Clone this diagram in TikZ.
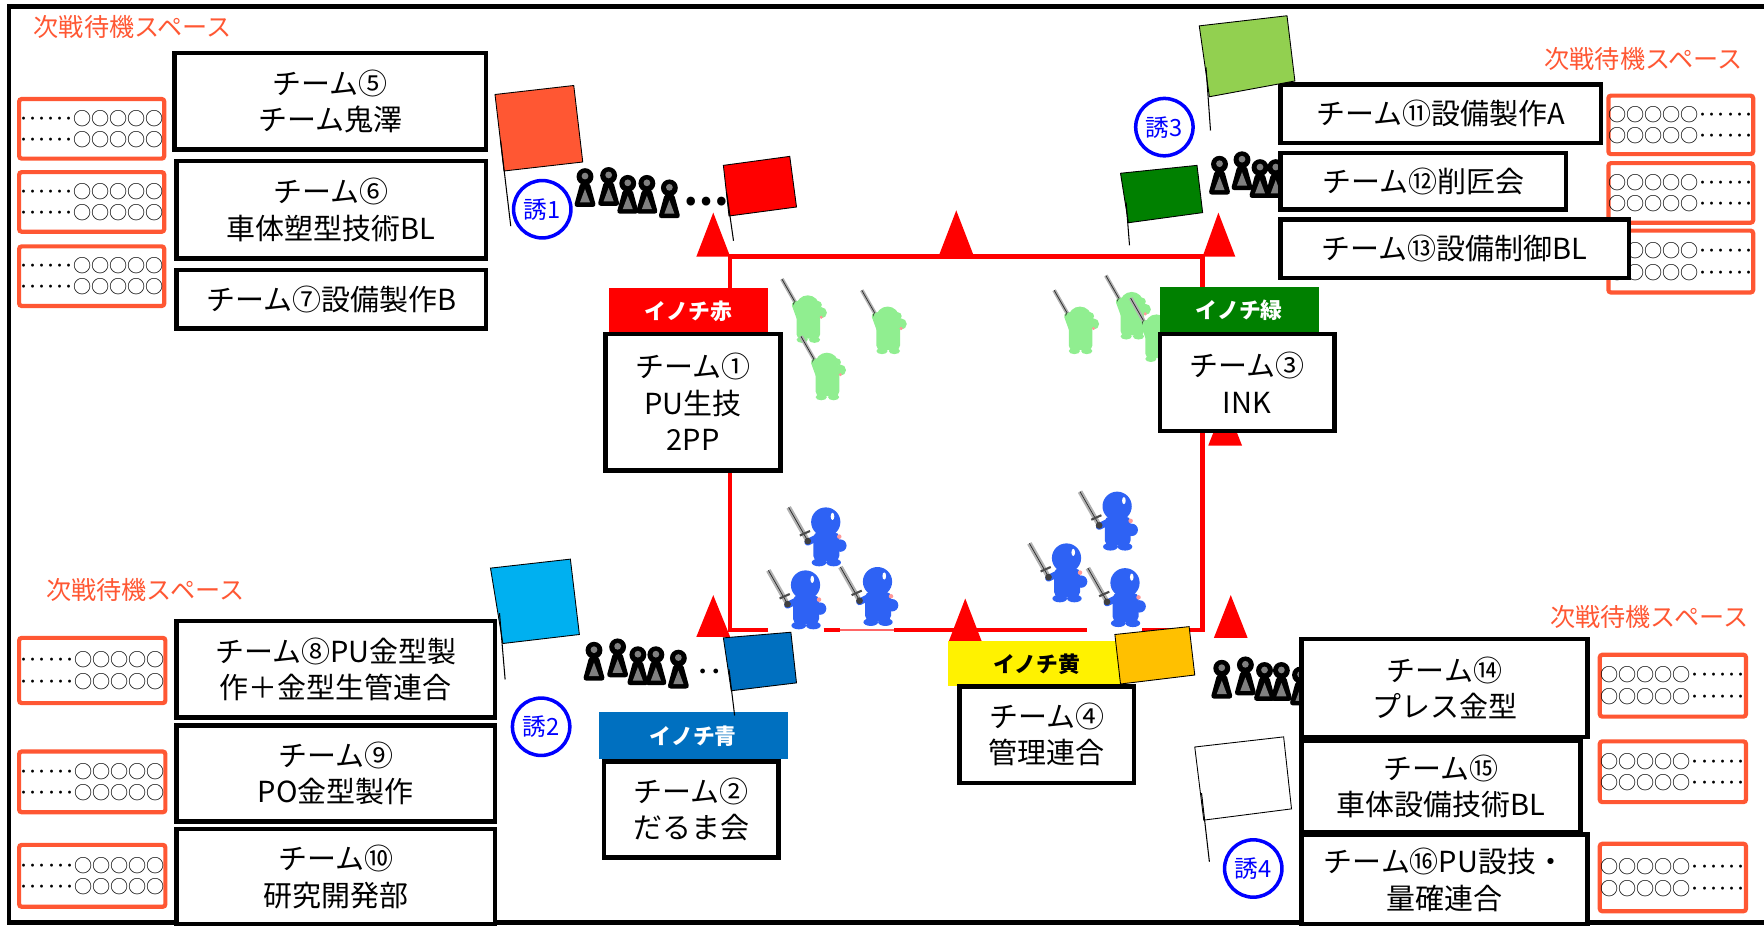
\documentclass[tikz,border=0pt]{standalone}
\usepackage{fontspec}
\setmainfont{Noto Sans CJK JP}
\usetikzlibrary{positioning}
\usepackage{xcolor}

\definecolor{waitorange}{RGB}{255,87,51}
\definecolor{inogreen}{RGB}{0,128,0}
\definecolor{inoblue}{RGB}{0,112,192}
\definecolor{flaglime}{RGB}{146,208,80}
\definecolor{flagsky}{RGB}{0,176,240}
\definecolor{flagamber}{RGB}{255,192,0}
\definecolor{ninjablue}{RGB}{46,98,244}
\definecolor{ninjagreen}{RGB}{144,238,144}

\begin{document}
\begin{tikzpicture}[x=0.0225cm, y=-0.0225cm,
  team/.style={draw, line width=2.6pt, fill=white, align=center, inner sep=0pt,
    font=\fontsize{16.5}{20.8}\selectfont},
  wh/.style 2 args={minimum width=#1*0.0225cm, minimum height=#2*0.0225cm},
  wait/.style={draw=waitorange, line width=2.4pt, fill=white, rounded corners=1.5pt,
    align=center, inner sep=0pt, font=\fontsize{10.3}{12.1}\selectfont},
  bar/.style={fill=#1, inner sep=0pt, text=white, font=\bfseries\fontsize{12.4}{14}\selectfont},
  spare/.style={text=waitorange, inner sep=0pt, font=\fontsize{14.3}{16}\selectfont},
  lure/.style={circle, draw=blue, line width=2pt, text=blue, fill=white, inner sep=0pt,
    minimum size=51*0.0225cm, font=\fontsize{13.5}{13.5}\selectfont},
  field/.style={draw=red, line width=2.6pt},
  flag/.style={draw=black, line width=0.5pt},
  pole/.style={draw=black, line width=0.6pt},
  pawn/.pic={
    \fill[black, rounded corners=2pt] (-4,5) -- (4,5) -- (10,27) -- (-10,27) -- cycle;
    \fill[gray] (0,11) -- (4.5,23) -- (-4.5,23) -- cycle;
    \fill[black] (0,0) circle (7.5);
    \fill[gray] (0,-0.5) circle (3);
  },
  bninja/.pic={
    % sword
    \draw[line width=2.8pt, gray!60] (-17,15) -- (-33,-13);
    \draw[line width=0.4pt, gray!30!black] (-17,15) -- (-33,-13);
    \draw[line width=1.2pt, black!70] (-23,12) -- (-14,8);
    % body
    \fill[ninjablue, rounded corners=3pt] (-11,9) rectangle (12,35);
    \fill[ninjablue] (-6,36) ellipse (6.5 and 3.4) (7,36) ellipse (6.5 and 3.4);
    \draw[ninjablue, line width=3.8pt, line cap=round] (-8,14) -- (-16,18);
    \fill[gray!50!black] (-16,17) circle (3);
    \fill[ninjablue] (13,21) circle (5.5);
    \fill[pink!80!red] (12,13) circle (2);
    % head
    \fill[ninjablue] (0,0) circle (13);
    \fill[white] (6,-5) ellipse (1.6 and 3.2);
  },
  gninja/.pic={
    % sword held up
    \draw[line width=2.2pt, gray!60] (-11,-4) -- (-23,-25);
    \draw[line width=0.4pt, gray!30!black] (-11,-4) -- (-23,-25);
    \fill[ninjagreen, rounded corners=2.5pt] (-10,6) rectangle (11,28);
    \fill[ninjagreen] (-5,29) ellipse (5 and 2.8) (6,29) ellipse (5 and 2.8);
    \draw[ninjagreen, line width=4pt, line cap=round] (-7,9) -- (-11,-2);
    \fill[gray!50!black] (-11,-3) circle (2);
    \fill[ninjagreen] (12,5) circle (5);
    \fill[pink!80!red] (12,9) circle (1.5);
    \fill[ninjagreen] (0,0) circle (10.5);
    \fill[ninjagreen] (-9,-2) circle (3.5) (9,-2) circle (3.5);
  }
]
\useasboundingbox (0,0) rectangle (1568,823);
% outer frame
\draw[line width=2.6pt] (8,6) rectangle (1600,820);

% battle field
\draw[field] (683,560) -- (649,560) -- (649,228) -- (1069,228) -- (1069,560) -- (1015,560);
\draw[field] (732,560) -- (747,560) (795,560) -- (966,560);
\draw[red!60, line width=0.6pt] (747,560) -- (795,560);
\fill[red] (634,189) -- (649,228) -- (619,228) -- cycle;
\fill[red] (850,187) -- (865,226) -- (835,226) -- cycle;
\fill[red] (1083,189) -- (1098,228) -- (1069,228) -- cycle;
\fill[red] (1089,358) -- (1104,396) -- (1074,396) -- cycle;
\fill[red] (634,529) -- (649,566) -- (619,566) -- cycle;
\fill[red] (858,532) -- (873,571) -- (843,571) -- cycle;
\fill[red] (1094,529) -- (1109,567) -- (1079,567) -- cycle;

% fighters
\foreach \x/\y in {718/273, 789/283, 735/324, 960/283, 1006/270, 1028/290}
  \pic at (\x,\y) {gninja};
\foreach \x/\y in {734/464, 716/520, 780/517, 948/496, 993/450, 1000/518}
  \pic at (\x,\y) {bninja};

% queues
\foreach \x/\y in {520/157, 541/156, 558/163, 575/163, 595/167,
                   528/578, 549/575, 567/582, 583/582, 603/585,
                   1084/146, 1104/142, 1120/149, 1134/149,
                   1086/594, 1107/591, 1124/596, 1139/596, 1156/600}
  \pic at (\x,\y) {pawn};
\node[inner sep=0pt, font=\bfseries\fontsize{23}{23}\selectfont] (dots1) at (628,179) {…};
\node[inner sep=0pt, font=\bfseries\fontsize{15}{15}\selectfont] (dots2) at (631,600) {‥};

% waiting spaces
\node[spare] (sp1) at (118,24) {次戦待機スペース};
\node[spare] (sp2) at (1461,52) {次戦待機スペース};
\node[spare] (sp3) at (129,524) {次戦待機スペース};
\node[spare] (sp4) at (1466,548) {次戦待機スペース};
\foreach \n/\y in {w1/114.5, w2/179.5, w3/245.5}
  \node[wait, wh={129}{53}] (\n) at (81.5,\y) {･･････○○○○○\\･･････○○○○○};
\foreach \n/\y/\h in {w4/596/58, w5/695/54, w6/778.5/55}
  \node[wait, wh={130}{\h}] (\n) at (82,\y) {･･････○○○○○\\･･････○○○○○};
\foreach \n/\y/\h in {w7/111/52, w8/171.5/53, w9/232.5/55}
  \node[wait, wh={128}{\h}] (\n) at (1494,\y) {○○○○○･･････\\○○○○○･･････};
\foreach \n/\y/\h in {w10/609.5/55, w11/686/54, w12/780/60}
  \node[wait, wh={130}{\h}] (\n) at (1487,\y) {○○○○○･･････\\○○○○○･･････};

% teams in the field
\node[bar=red, wh={142}{41}] (ired) at (612,276.5) {イノチ赤};
\node[bar=inogreen, wh={141}{42}] (igreen) at (1101.5,276) {イノチ緑};
\node[bar=inoblue, wh={168}{42}] (iblue) at (616,654) {イノチ青};
\node[bar=yellow, wh={157}{40}, text=black] (iyellow) at (921.5,590) {イノチ黄};
\node[team, wh={156}{121}] (t1) at (616,357.5) {チーム①\\PU生技\\2PP};
\node[team, wh={155}{86}] (t3) at (1108.5,340) {チーム③\\INK};
\node[team, wh={155}{85}] (t2) at (614.5,719.5) {チーム②\\だるま会};
\node[team, wh={155}{86}] (t4) at (930.5,653) {チーム④\\管理連合};

% teams waiting
\node[team, wh={277}{86}] (t5) at (293.5,90) {チーム⑤\\チーム鬼澤};
\node[team, wh={275}{87}] (t6) at (294.5,186.5) {チーム⑥\\車体塑型技術BL};
\node[team, wh={275}{52}] (t7) at (294.5,266) {チーム⑦設備製作B};
\node[team, wh={283}{86}] (t8) at (298.5,595) {チーム⑧PU金型製\\作＋金型生管連合};
\node[team, wh={283}{85}] (t9) at (298.5,687.5) {チーム⑨\\PO金型製作};
\node[team, wh={283}{85}] (t10) at (298.5,779.5) {チーム⑩\\研究開発部};
\node[team, wh={285}{52}] (t11) at (1280.5,101) {チーム⑪設備製作A};
\node[team, wh={254}{50}] (t12) at (1265,161) {チーム⑫削匠会};
\node[team, wh={310}{52}] (t13) at (1293,221) {チーム⑬設備制御BL};
\node[team, wh={254}{87}] (t14) at (1284,611.5) {チーム⑭\\プレス金型};
\node[team, wh={248}{82}] (t15) at (1281,699) {チーム⑮\\車体設備技術BL};
\node[team, wh={254}{80}] (t16) at (1284,782) {チーム⑯PU設技・\\量確連合};

% flags
\filldraw[flag, fill=waitorange] (440,84) -- (510,76) -- (518,144) -- (448,152) -- cycle;
\draw[pole] (445,125) -- (454,201);
\filldraw[flag, fill=red] (643,147) -- (702,139) -- (708,184) -- (648,192) -- cycle;
\draw[pole] (646,172) -- (652,214);
\filldraw[flag, fill=flaglime] (1066,23) -- (1144,14) -- (1151,72) -- (1075,86) -- cycle;
\draw[pole] (1072,60) -- (1076,116);
\filldraw[flag, fill=inogreen] (996,154) -- (1064,147) -- (1069,189) -- (1003,198) -- cycle;
\draw[pole] (1001,180) -- (1004,218);
\filldraw[flag, fill=flagsky] (436,505) -- (507,497) -- (515,564) -- (447,572) -- cycle;
\draw[pole] (444,545) -- (449,604);
\filldraw[flag, fill=inoblue] (643,567) -- (703,562) -- (708,607) -- (650,614) -- cycle;
\draw[pole] (648,595) -- (653,636);
\filldraw[flag, fill=flagamber] (991,564) -- (1057,557) -- (1062,600) -- (996,608) -- cycle;
\filldraw[flag, fill=white] (1062,664) -- (1141,655) -- (1148,719) -- (1070,729) -- cycle;
\draw[pole] (1068,705) -- (1075,766);

% invitations
\node[lure] (lure1) at (482,186) {誘1};
\node[lure] (lure2) at (481,646) {誘2};
\node[lure] (lure3) at (1035,113) {誘3};
\node[lure] (lure4) at (1114,772) {誘4};
\end{tikzpicture}
\end{document}
